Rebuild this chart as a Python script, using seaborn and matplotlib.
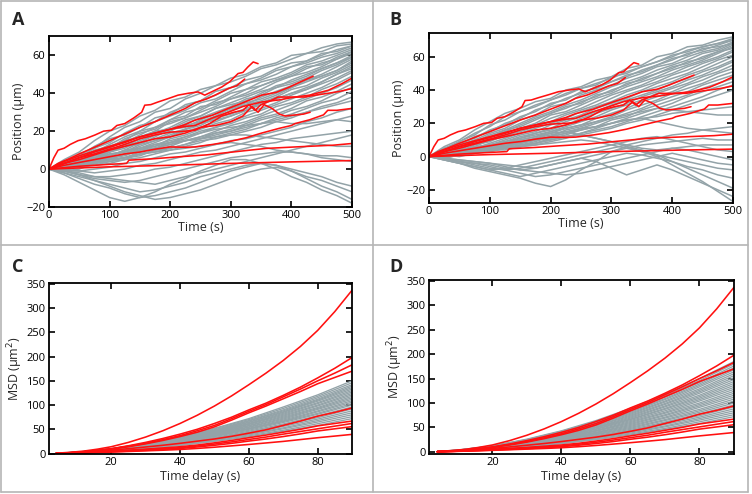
import matplotlib
matplotlib.use("Agg")
import matplotlib.pyplot as plt
from matplotlib.lines import Line2D
import pandas as pd
import seaborn as sns

# ---------------- data ----------------
# time grid of gray trajectories (s)
t_grid = [0, 25, 50, 75, 100, 125, 150, 175, 200, 225, 250, 275, 300,
          325, 350, 375, 400, 425, 450, 475, 500]

# red (experimental) trajectories, shared by panels A and B
red_t1 = [0, 8, 15, 25, 35, 48, 60, 76, 90, 103, 112, 125, 140, 153, 158, 168, 180, 195, 213, 230, 246, 257, 270, 285, 298, 312, 320, 328, 337, 345]
red_v1 = [0, 6, 10, 11, 13, 15, 16, 18, 20, 20.5, 23, 24, 27, 30, 33.7, 34, 35.4, 37, 39, 40, 40.7, 39, 41, 43.3, 46, 50.4, 51, 53.8, 56.5, 55.6]
red_t2 = [0, 15, 30, 50, 75, 100, 125, 150, 175, 200, 225, 241, 260, 274, 296, 310, 323]
red_v2 = [0, 3, 5, 8, 11.5, 15, 18.5, 22, 25, 28.5, 32, 35, 37, 39, 42.5, 44, 47.5]
red_t3 = [0, 25, 50, 75, 100, 125, 150, 175, 200, 225, 241, 270, 296, 320, 351, 375, 395, 415, 436]
red_v3 = [0, 3, 6, 9, 11.5, 14, 17, 19, 21, 23.5, 25.8, 28.5, 32, 35, 39, 40.5, 43, 46, 49]
red_t4 = [0, 25, 50, 75, 100, 125, 150, 175, 200, 225, 241, 270, 296, 320, 351, 380, 406, 430, 461, 483, 500]
red_v4 = [0, 4, 7, 9.5, 12, 14.5, 17, 19, 21, 22.5, 23, 27, 30, 33, 35.4, 36.5, 38, 39, 41.6, 45, 48]
red_t5 = [0, 25, 50, 75, 100, 125, 150, 175, 200, 225, 241, 265, 285, 305, 320, 330, 340, 350, 365, 378, 400, 422, 440, 461, 480, 500]
red_v5 = [0, 3, 6, 8, 10.5, 13, 16, 18, 19.5, 20, 20.5, 24, 28, 30, 31, 34, 31, 34, 36, 38, 38, 38, 39, 40, 41, 42.5]
red_t6 = [0, 25, 50, 75, 100, 125, 150, 175, 200, 225, 250, 275, 300, 320, 335, 345, 355, 368, 380, 390, 405, 420, 431]
red_v6 = [0, 3, 5, 7.5, 10, 12, 14, 16, 17, 19, 22, 23, 25, 28, 33, 30, 34, 32, 29, 28, 28.5, 29, 30]
red_t7 = [0, 25, 50, 75, 100, 125, 150, 175, 200, 225, 241, 270, 296, 325, 351, 380, 400, 406, 430, 453, 460, 475, 500]
red_v7 = [0, 2, 3.5, 5, 6.5, 8, 9, 10.5, 11.7, 11.5, 11.7, 13, 14.4, 16.5, 19, 21.5, 23, 24, 26, 28.6, 31, 31, 32]
red_t8 = [0, 50, 100, 128, 132, 175, 215, 260, 303, 358, 414, 469, 500]
red_v8 = [0, 1.5, 2.5, 3, 4.7, 5.5, 6.5, 7.5, 9, 10.9, 11.8, 12.6, 13.5]
red_t9 = [0, 100, 200, 300, 400, 500]
red_v9 = [0, 1.2, 2, 3, 3.8, 4.5]

red_times = [red_t1, red_t2, red_t3, red_t4, red_t5, red_t6, red_t7, red_t8, red_t9]
red_values = [red_v1, red_v2, red_v3, red_v4, red_v5, red_v6, red_v7, red_v8, red_v9]

# gray (simulated) trajectories, panel A
gray_A = [
    [0, 5, 9, 15, 20, 23, 28, 31, 36, 38, 42, 44, 48, 50, 54, 56, 60, 61, 64, 66, 67],
    [0, 3, 8, 11, 17, 22, 25, 30, 32, 37, 40, 44, 46, 49, 53, 55, 58, 61, 62, 65, 66],
    [0, 4, 6, 11, 14, 19, 23, 25, 30, 33, 36, 41, 43, 47, 49, 53, 56, 57, 60, 63, 65],
    [0, 2, 7, 9, 13, 17, 20, 25, 28, 31, 35, 37, 41, 45, 47, 50, 54, 56, 59, 61, 64],
    [0, 3, 5, 10, 12, 15, 20, 22, 26, 30, 32, 36, 40, 42, 46, 48, 51, 55, 57, 60, 63],
    [0, 1, 5, 8, 12, 14, 18, 22, 24, 27, 31, 35, 37, 40, 44, 47, 49, 53, 56, 58, 62],
    [0, 3, 4, 7, 11, 15, 17, 20, 25, 27, 30, 33, 37, 39, 42, 46, 49, 51, 54, 58, 61],
    [0, 2, 5, 6, 10, 13, 16, 19, 22, 26, 28, 32, 35, 38, 41, 43, 47, 50, 53, 56, 60],
    [0, 1, 3, 7, 9, 11, 15, 18, 20, 24, 27, 30, 33, 37, 39, 43, 45, 48, 52, 55, 59],
    [0, 2, 4, 5, 9, 12, 13, 17, 21, 22, 26, 29, 32, 34, 38, 41, 44, 47, 50, 54, 58],
    [0, 0, 3, 6, 7, 10, 14, 16, 19, 21, 25, 27, 31, 34, 36, 39, 43, 46, 49, 52, 57],
    [0, 2, 2, 5, 8, 9, 12, 15, 18, 21, 23, 27, 29, 32, 35, 38, 42, 44, 48, 51, 55],
    [0, 1, 4, 4, 7, 10, 11, 14, 17, 20, 22, 25, 28, 31, 34, 37, 40, 43, 46, 50, 54],
    [0, -1, 2, 4, 5, 8, 11, 12, 16, 18, 21, 24, 26, 30, 32, 35, 39, 42, 45, 48, 52],
    [0, 1, 1, 3, 6, 7, 10, 13, 14, 17, 20, 22, 25, 28, 31, 34, 37, 40, 43, 47, 51],
    [0, 2, 3, 4, 5, 8, 9, 11, 14, 16, 19, 22, 24, 27, 29, 33, 35, 38, 42, 45, 49],
    [0, 0, 2, 3, 5, 6, 9, 11, 13, 15, 17, 20, 23, 25, 28, 31, 34, 37, 40, 43, 47],
    [0, 1, 1, 2, 4, 6, 7, 10, 12, 15, 16, 19, 21, 24, 27, 29, 32, 36, 38, 41, 45],
    [0, -1, 0, 3, 4, 5, 8, 9, 11, 13, 16, 18, 20, 23, 26, 28, 31, 33, 36, 40, 43],
    [0, 1, 2, 2, 3, 5, 6, 8, 10, 12, 14, 17, 19, 21, 24, 27, 29, 32, 35, 37, 41],
    [0, 0, 1, 3, 5, 6, 8, 10, 11, 13, 15, 16, 18, 20, 22, 25, 27, 30, 33, 35, 38],
    [0, 1, 3, 4, 6, 8, 10, 12, 14, 15, 17, 19, 20, 22, 24, 26, 28, 30, 32, 34, 36],
    [0, 4, 7, 12, 16, 18, 22, 27, 29, 34, 36, 39, 43, 45, 48, 52, 54, 57, 61, 62, 65],
    [0, 2, 6, 8, 11, 16, 19, 21, 26, 28, 33, 34, 38, 42, 44, 47, 50, 54, 55, 59, 62],
    [0, 1, 4, 8, 10, 12, 16, 20, 21, 25, 28, 32, 34, 36, 40, 44, 46, 49, 53, 56, 59],
    [0, 3, 5, 6, 9, 13, 14, 18, 21, 23, 25, 28, 32, 35, 37, 40, 43, 47, 49, 52, 56],
    [0, 0, 3, 5, 8, 9, 13, 15, 17, 21, 24, 26, 28, 31, 35, 37, 40, 42, 46, 50, 53],
    [0, -1, -1, 0, 1, 3, 4, 6, 8, 9, 11, 13, 15, 16, 18, 20, 22, 25, 27, 30, 32],
    [0, 0, -1, -2, -1, 0, 2, 3, 5, 7, 9, 10, 12, 14, 16, 18, 20, 22, 24, 26, 28],
    [0, 1, 3, 5, 7, 9, 11, 13, 15, 17, 19, 21, 22, 23, 24, 25, 24, 24, 25, 26, 25],
    [0, -1, -2, -4, -4, -3, -2, 0, 1, 3, 5, 7, 9, 11, 13, 14, 16, 17, 18, 19, 20],
    [0, 1, 2, 4, 6, 8, 10, 11, 13, 15, 16, 17, 18, 18, 17, 16, 15, 14, 13, 12, 12],
    [0, -1, -3, -5, -6, -7, -6, -4, -2, 0, 2, 4, 6, 7, 8, 9, 9, 8, 7, 7, 6],
    [0, 1, 2, 3, 5, 6, 8, 9, 10, 11, 12, 13, 14, 13, 12, 10, 9, 8, 6, 5, 4],
    [0, -2, -4, -6, -8, -10, -12, -11, -9, -7, -4, -2, 0, 2, 3, 2, 0, -2, -4, -7, -9],
    [0, -2, -5, -8, -10, -13, -15, -14, -12, -10, -7, -4, -1, 1, 3, 2, -1, -4, -6, -9, -12],
    [0, -3, -7, -11, -15, -17, -15, -12, -8, -5, -1, 2, 5, 5, 3, 0, -4, -7, -11, -14, -18],
    [0, -1, -3, -6, -9, -12, -14, -16, -15, -13, -11, -8, -5, -2, 0, 1, -1, -5, -9, -12, -16],
    [0, -1, -3, -4, -5, -6, -7, -8, -6, -4, -2, 0, 2, 4, 6, 8, 10, 12, 14, 16, 18],
]

# gray (simulated) trajectories, panel B
gray_B = [
    [0, 6, 10, 16, 21, 26, 29, 33, 35, 40, 42, 46, 48, 53, 55, 60, 62, 66, 67, 70, 72],
    [0, 4, 9, 13, 19, 22, 27, 30, 34, 37, 41, 43, 48, 50, 54, 57, 61, 63, 66, 68, 71],
    [0, 5, 7, 12, 15, 20, 23, 28, 31, 35, 38, 42, 45, 48, 52, 55, 58, 62, 64, 67, 70],
    [0, 2, 7, 10, 14, 17, 22, 25, 30, 32, 37, 40, 43, 47, 50, 54, 56, 60, 63, 65, 69],
    [0, 3, 5, 9, 13, 16, 20, 24, 27, 31, 34, 38, 42, 45, 48, 52, 55, 58, 62, 64, 68],
    [0, 2, 6, 8, 11, 16, 18, 22, 26, 29, 33, 36, 40, 43, 47, 50, 54, 56, 60, 63, 67],
    [0, 1, 4, 8, 10, 14, 17, 20, 25, 27, 31, 35, 38, 42, 45, 48, 52, 55, 58, 62, 66],
    [0, 3, 4, 6, 10, 12, 16, 19, 23, 26, 29, 33, 37, 40, 43, 47, 50, 54, 57, 60, 64],
    [0, 1, 3, 7, 9, 13, 15, 18, 21, 25, 28, 31, 35, 39, 42, 45, 49, 52, 56, 59, 63],
    [0, 2, 3, 5, 8, 11, 14, 17, 20, 23, 27, 30, 33, 37, 40, 44, 47, 50, 54, 58, 61],
    [0, 0, 3, 6, 7, 10, 13, 15, 19, 22, 25, 29, 32, 35, 39, 42, 45, 49, 52, 56, 60],
    [0, 1, 2, 4, 7, 9, 12, 14, 17, 21, 24, 27, 31, 34, 37, 40, 44, 47, 51, 54, 58],
    [0, 2, 2, 5, 6, 8, 11, 14, 16, 19, 23, 26, 29, 32, 36, 39, 42, 46, 49, 53, 57],
    [0, 0, 1, 3, 6, 7, 10, 12, 15, 18, 21, 24, 28, 31, 34, 38, 41, 44, 48, 51, 55],
    [0, 1, 1, 2, 4, 7, 8, 11, 14, 17, 19, 23, 26, 29, 33, 36, 39, 43, 46, 50, 53],
    [0, -1, 1, 3, 4, 6, 8, 10, 12, 16, 18, 21, 24, 28, 31, 34, 38, 41, 44, 48, 51],
    [0, 1, 2, 2, 4, 5, 7, 9, 12, 14, 17, 20, 23, 26, 29, 33, 36, 39, 43, 46, 49],
    [0, 0, 1, 3, 3, 5, 6, 8, 11, 13, 16, 18, 22, 24, 28, 31, 34, 37, 41, 44, 47],
    [0, 1, 0, 2, 4, 4, 6, 8, 10, 12, 14, 17, 20, 23, 26, 29, 32, 36, 39, 42, 45],
    [0, -1, 1, 2, 3, 5, 6, 7, 9, 11, 14, 16, 18, 21, 24, 27, 30, 33, 36, 40, 43],
    [0, 0, 2, 3, 4, 5, 7, 8, 10, 12, 13, 15, 17, 20, 22, 25, 28, 31, 34, 37, 40],
    [0, 5, 9, 14, 18, 24, 27, 31, 34, 38, 41, 44, 47, 51, 54, 57, 60, 64, 66, 68, 70],
    [0, 3, 8, 11, 16, 19, 24, 27, 32, 34, 39, 41, 45, 49, 51, 55, 59, 61, 65, 66, 68],
    [0, 2, 5, 9, 12, 15, 19, 23, 26, 30, 32, 37, 39, 44, 46, 50, 53, 57, 59, 63, 65],
    [0, 1, 2, 4, 5, 7, 9, 11, 13, 15, 17, 18, 20, 22, 23, 24, 26, 27, 28, 29, 30],
    [0, 1, 3, 5, 7, 9, 11, 13, 15, 17, 19, 21, 23, 25, 27, 29, 28, 27, 26, 25, 25],
    [0, -1, -3, -5, -7, -8, -7, -5, -3, -1, 1, 3, 5, 7, 9, 11, 13, 14, 16, 17, 18],
    [0, 1, 2, 3, 5, 6, 8, 10, 12, 14, 16, 18, 20, 22, 23, 21, 19, 17, 16, 15, 14],
    [0, -1, -2, -3, -4, -5, -6, -7, -5, -3, -1, 1, 3, 5, 7, 8, 9, 10, 11, 10, 10],
    [0, 1, 2, 4, 6, 8, 10, 12, 14, 15, 13, 11, 9, 7, 5, 4, 5, 6, 7, 7, 7],
    [0, -2, -4, -6, -8, -7, -5, -3, -1, 1, 3, 5, 7, 9, 11, 12, 10, 8, 6, 4, 3],
    [0, -1, -3, -4, -6, -8, -10, -12, -11, -9, -7, -5, -3, -1, 1, 3, 5, 4, 2, 0, -2],
    [0, 1, 2, 3, 4, 5, 6, 7, 8, 9, 10, 9, 7, 5, 3, 1, -1, -3, -5, -7, -8],
    [0, -2, -4, -6, -8, -10, -12, -10, -8, -6, -4, -2, 0, 2, 1, -1, -3, -6, -8, -11, -13],
    [0, -2, -4, -7, -9, -11, -13, -16, -18, -14, -8, -3, 3, 6, 4, 1, -3, -7, -11, -15, -19],
    [0, -1, -3, -4, -5, -7, -8, -7, -5, -3, -1, -3, -7, -11, -8, -5, -8, -12, -16, -20, -24],
    [0, 1, 2, 3, 5, 6, 8, 10, 11, 12, 13, 11, 9, 6, 3, 0, -5, -10, -15, -21, -27],
    [0, -1, -2, -3, -4, -6, -8, -9, -10, -11, -10, -8, -6, -4, -2, 0, 2, 0, -2, -4, -5],
]

# MSD (um^2): red curves on a fine delay grid, gray curves on a coarse one (s)
tau_red = [4, 8, 12, 16, 20, 25, 30, 35, 40, 45, 50, 55, 60, 65, 70, 75, 80, 85, 90]
red_msd = [
    [0.6, 2.5, 5, 9, 14, 23, 34, 47, 62, 79, 98, 119, 142, 166, 192, 221, 254, 293, 337],
    [0.4, 1.6, 3.6, 6.5, 10, 16, 23, 31, 40, 50, 62, 75, 90, 104, 120, 137, 156, 176, 198],
    [0.4, 1.5, 3.4, 6.1, 9.5, 15, 21, 28.5, 37, 47, 58, 72, 87, 101, 117, 133, 150, 166, 183],
    [0.3, 1.4, 3.2, 5.8, 9, 14, 20, 27, 35, 44, 55, 69, 84, 98, 113, 128, 144, 157, 170],
    [0.3, 1.3, 2.9, 4.8, 7, 10, 13.5, 17, 21, 25.5, 30, 35.5, 42, 49, 58, 67, 77, 85, 94],
    [0.2, 0.9, 2, 3.3, 5, 7, 9, 11.5, 14, 17.5, 22, 27, 32.6, 38, 44, 50, 57, 62, 67],
    [0.2, 0.8, 1.8, 2.9, 4, 5.8, 8, 10, 12, 15.5, 19.5, 24, 29, 34, 40, 45.5, 51, 56.5, 62],
    [0.2, 0.7, 1.6, 2.5, 3.5, 5, 6.5, 8.3, 10.4, 13.5, 17, 21, 25.7, 30, 35, 40.5, 46.5, 51, 55.5],
    [0.2, 0.6, 1.3, 2.1, 3, 4.2, 5.5, 6.8, 8.3, 10.5, 13, 15.8, 18.7, 21.8, 25, 28.8, 32.6, 36, 39.5],
]

tau_gray = [4, 10, 20, 30, 40, 50, 60, 70, 80, 90]
gray_msd_C = [
    [0.6, 2.9, 10, 21, 35, 52, 72, 96, 121, 150],
    [0.5, 2.8, 9.8, 20, 34, 51, 70, 93, 118, 146],
    [0.5, 2.7, 9.5, 20, 33, 49, 68, 90, 115, 142],
    [0.5, 2.6, 9.3, 19, 32, 48, 67, 88, 112, 139],
    [0.5, 2.6, 9.1, 19, 31, 47, 65, 86, 110, 136],
    [0.5, 2.5, 8.9, 18.6, 31, 46, 64, 85, 108, 133],
    [0.5, 2.5, 8.7, 18, 30, 45, 62, 83, 105, 130],
    [0.5, 2.4, 8.5, 17.8, 29, 44, 61, 81, 103, 127],
    [0.5, 2.4, 8.3, 17.4, 29, 43, 60, 79, 100, 124],
    [0.4, 2.3, 8.1, 17, 28, 42, 58, 77, 98, 121],
    [0.4, 2.2, 7.9, 16.5, 27, 41, 57, 75, 95, 118],
    [0.4, 2.2, 7.7, 16, 26.5, 40, 55, 73, 93, 115],
    [0.4, 2.1, 7.5, 15.7, 26, 39, 54, 71, 91, 112],
    [0.4, 2.1, 7.3, 15.3, 25, 38, 52, 69, 88, 109],
    [0.4, 2.0, 7.1, 14.8, 24, 37, 51, 67, 86, 106],
    [0.4, 2.0, 6.9, 14.4, 24, 36, 50, 66, 83, 103],
    [0.4, 1.9, 6.7, 14, 23, 35, 48, 64, 81, 100],
    [0.4, 1.8, 6.4, 13.4, 22, 33, 46, 61, 78, 96],
    [0.3, 1.7, 6.2, 12.9, 21, 32, 44, 59, 74, 92],
    [0.3, 1.7, 5.9, 12.3, 20, 31, 42, 56, 71, 88],
    [0.3, 1.6, 5.6, 11.8, 19, 29, 40, 53, 68, 84],
    [0.3, 1.5, 5.4, 11.2, 18.4, 28, 38.5, 51, 65, 80],
    [0.3, 1.4, 5.1, 10.6, 17.5, 26.5, 36.5, 48, 61.5, 76],
    [0.3, 1.4, 4.8, 10.1, 16.6, 25, 34.7, 46, 58, 72],
]

gray_msd_D = [
    [0.7, 3.6, 12.3, 26, 43, 64, 89, 118, 150, 185],
    [0.7, 3.5, 12, 25, 42, 62, 87, 115, 146, 180],
    [0.6, 3.4, 11.7, 24.4, 41, 61, 85, 112, 142, 176],
    [0.6, 3.3, 11.5, 23.8, 40, 60, 83, 109, 139, 172],
    [0.6, 3.2, 11.2, 23.3, 39, 58, 81, 107, 136, 168],
    [0.6, 3.1, 10.9, 22.7, 38, 57, 79, 104, 133, 164],
    [0.6, 3.1, 10.7, 22.2, 37, 56, 77, 102, 129, 160],
    [0.6, 3.0, 10.4, 21.6, 36, 54, 75, 99, 126, 156],
    [0.6, 2.9, 10.1, 21, 35, 53, 73, 97, 123, 152],
    [0.5, 2.8, 9.9, 20.5, 34, 51, 71, 94, 120, 148],
    [0.5, 2.7, 9.6, 19.9, 33, 50, 69, 92, 116, 144],
    [0.5, 2.7, 9.3, 19.4, 32, 49, 67, 89, 113, 140],
    [0.5, 2.6, 9.1, 18.8, 31, 47, 66, 87, 110, 136],
    [0.5, 2.5, 8.8, 18.3, 30.5, 46, 64, 84, 107, 132],
    [0.5, 2.4, 8.5, 17.7, 29.5, 44, 62, 81, 104, 128],
    [0.5, 2.4, 8.3, 17.2, 28.5, 43, 60, 79, 100, 124],
    [0.4, 2.3, 8.0, 16.6, 28, 42, 58, 76, 97, 120],
    [0.4, 2.2, 7.7, 16.1, 27, 40, 56, 74, 94, 116],
    [0.4, 2.1, 7.5, 15.5, 26, 39, 54, 71, 91, 112],
    [0.4, 2.1, 7.2, 15, 25, 37.5, 52, 69, 87, 108],
    [0.4, 2.0, 6.9, 14.4, 24, 36, 50, 66, 84, 104],
    [0.4, 1.9, 6.7, 13.9, 23, 35, 48, 64, 81, 100],
    [0.4, 1.8, 6.4, 13.3, 22, 33, 46, 61, 78, 96],
    [0.3, 1.7, 6.1, 12.7, 21, 32, 44, 59, 74, 92],
    [0.3, 1.7, 5.9, 12.2, 20, 30.5, 42, 56, 71, 88],
    [0.3, 1.6, 5.6, 11.6, 19.3, 29, 40.5, 53, 68, 84],
    [0.3, 1.5, 5.4, 11.1, 18.4, 28, 38.5, 51, 65, 80],
    [0.3, 1.4, 5.1, 10.5, 17.5, 26.5, 36.5, 48, 61.5, 76],
    [0.3, 1.4, 4.8, 10, 16.6, 25, 34.7, 46, 58, 72],
]

# ---------------- helpers ----------------
def long_frame(xs_list, ys_list):
    rows = []
    for i, (xs, ys) in enumerate(zip(xs_list, ys_list)):
        for x, y in zip(xs, ys):
            rows.append((i, x, y))
    return pd.DataFrame(rows, columns=["id", "x", "y"])

GRAY = "#93a3a8"
RED = "#ff1010"

sns.set_style("ticks")
plt.rcParams["font.family"] = ["Open Sans", "DejaVu Sans"]
plt.rcParams["axes.linewidth"] = 1.3

W, H = 752, 494
fig = plt.figure(figsize=(W / 100, H / 100), dpi=100)

def add_axes(l, r, t, b):
    return fig.add_axes([l / W, 1 - b / H, (r - l) / W, (b - t) / H])

axA = add_axes(49, 352, 36, 207)
axB = add_axes(429, 733, 33, 203)
axC = add_axes(49, 352, 283, 454)
axD = add_axes(429, 734, 280, 454)

def style(ax):
    ax.tick_params(direction="in", length=4, width=1.2, top=True, right=True,
                   labelsize=8, pad=2.5, colors="black")
    for s in ax.spines.values():
        s.set_color("black")
        s.set_linewidth(1.3)

# Panels A and B: trajectories
for ax, gray in ((axA, gray_A), (axB, gray_B)):
    gdf = long_frame([t_grid] * len(gray), gray)
    sns.lineplot(data=gdf, x="x", y="y", units="id", estimator=None,
                 color=GRAY, linewidth=1.1, ax=ax, sort=False)
    rdf = long_frame(red_times, red_values)
    sns.lineplot(data=rdf, x="x", y="y", units="id", estimator=None,
                 color=RED, linewidth=1.15, ax=ax, sort=False)
    ax.set_xlim(0, 500)
    ax.set_xticks([0, 100, 200, 300, 400, 500])
    ax.set_yticks([-20, 0, 20, 40, 60])
    ax.set_xlabel("Time (s)", fontsize=9, labelpad=0)
    ax.set_ylabel("Position (\u00b5m)", fontsize=9, labelpad=1)
    style(ax)

axA.set_ylim(-20, 70.2)
axB.set_ylim(-27.9, 74.3)

# Panels C and D: MSD
for ax, gray, x0, y0 in ((axC, gray_msd_C, 1.9, -1), (axD, gray_msd_D, 1.6, -4.5)):
    gdf = long_frame([tau_gray] * len(gray), gray)
    sns.lineplot(data=gdf, x="x", y="y", units="id", estimator=None,
                 color=GRAY, linewidth=0.95, ax=ax, sort=False)
    rdf = long_frame([tau_red] * len(red_msd), red_msd)
    sns.lineplot(data=rdf, x="x", y="y", units="id", estimator=None,
                 color=RED, linewidth=1.15, ax=ax, sort=False)
    ax.set_xlim(x0, 90)
    ax.set_ylim(y0, 352)
    ax.set_xticks([20, 40, 60, 80])
    ax.set_yticks([0, 50, 100, 150, 200, 250, 300, 350])
    ax.set_xlabel("Time delay (s)", fontsize=9, labelpad=1)
    ax.set_ylabel("MSD (\u00b5m$^2$)", fontsize=9, labelpad=1)
    style(ax)

# panel letters
for lbl, x, y in (("A", 12, 25), ("B", 389, 25), ("C", 12, 272), ("D", 389, 272)):
    fig.text(x / W, 1 - y / H, lbl, fontsize=13, fontweight="bold",
             family=["Open Sans", "DejaVu Sans"], ha="left", va="baseline")

# panel frame lines
fc = "#b5b5b5"
for (x1, y1, x2, y2) in ((1, 1, 748, 1), (1, 492, 748, 492), (1, 1, 1, 492),
                         (748, 1, 748, 492), (372.5, 1, 372.5, 492), (1, 245.5, 748, 245.5)):
    fig.add_artist(Line2D([x1 / W, x2 / W], [1 - y1 / H, 1 - y2 / H],
                          transform=fig.transFigure, color=fc, linewidth=1.2))

fig.savefig("out.png", dpi=100)
